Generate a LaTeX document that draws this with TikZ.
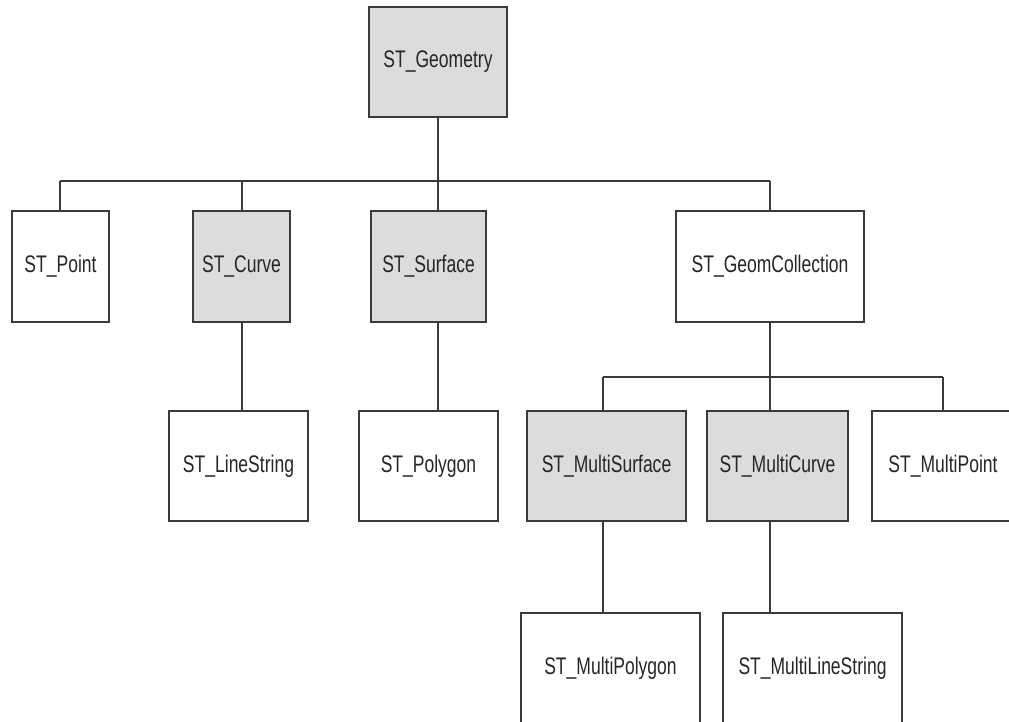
\documentclass[tikz,border=0pt]{standalone}
\usepackage{fontspec}
\setmainfont{Liberation Sans}[FakeStretch=0.73]
\definecolor{boxgray}{HTML}{DCDCDC}
\definecolor{linegray}{HTML}{3A3A3A}
\begin{document}
\begin{tikzpicture}[x=1pt,y=-1pt,
  cls/.style={draw=linegray, line width=1.6pt, rectangle, inner sep=0pt,
    font=\fontsize{24}{28}\selectfont, text=black!85},
  abs/.style={cls, fill=boxgray},
  conc/.style={cls, fill=white},
  link/.style={draw=linegray, line width=1.6pt}]
\useasboundingbox[fill=white] (0,0) rectangle (1009,721);
\begin{scope}
\clip (0,0) rectangle (1009,721);
% level 0
\node[abs, minimum width=138pt, minimum height=110pt] (geom) at (438,62) {ST\_Geometry};
% level 1
\node[conc, minimum width=97pt, minimum height=111pt] (point) at (60.5,266.5) {ST\_Point};
\node[abs, minimum width=97pt, minimum height=111pt] (curve) at (241.5,266.5) {ST\_Curve};
\node[abs, minimum width=115pt, minimum height=111pt] (surface) at (428.5,266.5) {ST\_Surface};
\node[conc, minimum width=188pt, minimum height=111pt] (coll) at (770,266.5) {ST\_GeomCollection};
% level 2
\node[conc, minimum width=139pt, minimum height=110pt] (linestr) at (238.5,466) {ST\_LineString};
\node[conc, minimum width=139pt, minimum height=110pt] (polygon) at (428.5,466) {ST\_Polygon};
\node[abs, minimum width=159pt, minimum height=110pt] (msurf) at (606.5,466) {ST\_MultiSurface};
\node[abs, minimum width=141pt, minimum height=110pt] (mcurve) at (777.5,466) {ST\_MultiCurve};
\node[conc, minimum width=142pt, minimum height=110pt] (mpoint) at (943,466) {ST\_MultiPoint};
% level 3
\node[conc, minimum width=179pt, minimum height=110pt] (mpoly) at (610.5,668) {ST\_MultiPolygon};
\node[conc, minimum width=179pt, minimum height=110pt] (mline) at (812.5,668) {ST\_MultiLineString};
% bus coordinates
\coordinate (busA) at (438,181);
\coordinate (busAL) at (60,181);
\coordinate (busAC) at (242,181);
\coordinate (busAR) at (770,181);
\coordinate (busB) at (770,377);
\coordinate (busBL) at (603,377);
\coordinate (busBR) at (943,377);
% connectors
\draw[link] (geom.south) -- (busA);
\draw[link] (busAL) -- (busAR);
\draw[link] (busAL) -- (busAL |- point.north);
\draw[link] (busAC) -- (busAC |- curve.north);
\draw[link] (busA) -- (busA |- surface.north);
\draw[link] (busAR) -- (busAR |- coll.north);
\draw[link] (busAC |- curve.south) -- (busAC |- linestr.north);
\draw[link] (busA |- surface.south) -- (busA |- polygon.north);
\draw[link] (coll.south) -- (busB);
\draw[link] (busBL) -- (busBR);
\draw[link] (busBL) -- (busBL |- msurf.north);
\draw[link] (busB) -- (busB |- mcurve.north);
\draw[link] (busBR) -- (busBR |- mpoint.north);
\draw[link] (busBL |- msurf.south) -- (busBL |- mpoly.north);
\draw[link] (busB |- mcurve.south) -- (busB |- mline.north);
\end{scope}
\end{tikzpicture}
\end{document}
